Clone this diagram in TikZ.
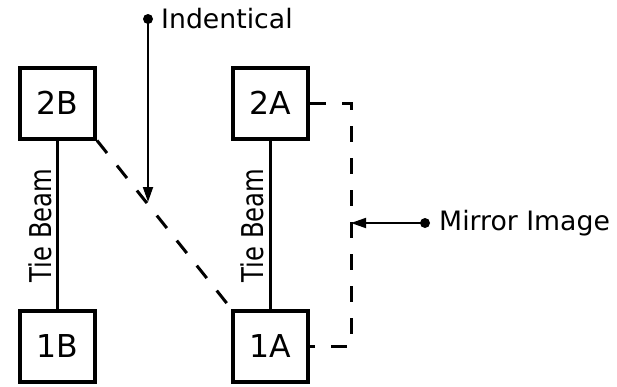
\documentclass[tikz,border=0pt]{standalone}
\usepackage{fontspec}
\setmainfont{DejaVu Sans}
\usetikzlibrary{arrows.meta}
\begin{document}
\begin{tikzpicture}[x=1pt,y=-1pt,
  pier/.style={draw,line width=4pt,fill=white,minimum width=75pt,minimum height=71pt,inner sep=0pt,font=\fontsize{31.5}{36}\selectfont},
  beam/.style={line width=3pt},
  dashlink/.style={line width=3pt,dash pattern=on 16pt off 16pt},
  pointer/.style={line width=1.8pt,-{Triangle[length=15pt,width=10pt]}},
  dotnode/.style={circle,fill=black,inner sep=0pt,minimum size=10pt},
  lbl/.style={font=\fontsize{26.7}{30}\selectfont,inner sep=0pt},
  beamlbl/.style={font=\fontsize{30}{34}\selectfont,inner sep=0pt,rotate=90,anchor=south}]
\useasboundingbox (0,0) rectangle (617,386);
\node[pier] (2B) at (57.5,103) {2B};
\node[pier] (2A) at (270.5,103) {2A};
\node[pier] (1B) at (57.5,346) {1B};
\node[pier] (1A) at (270.5,346) {1A};
\draw[beam] (2B) -- (1B);
\draw[beam] (2A) -- (1A);
\node[beamlbl] (tb1) at (52,225.5) {\scalebox{0.81}[1]{Tie Beam}};
\node[beamlbl] (tb2) at (264,225.5) {\scalebox{0.81}[1]{Tie Beam}};
\draw[dashlink] (2B.south east) -- (1A.north west);
\draw[dashlink] (2A.east) -- ++(41,0) |- (1A.east);
\node[dotnode] (d1) at (148,19) {};
\coordinate (t1) at (148,202);
\draw[pointer] (d1.center) -- (t1);
\node[lbl,anchor=west] (ind) at (161,19) {Indentical};
\node[dotnode] (d2) at (425,223) {};
\coordinate (t2) at (351,223);
\draw[pointer] (d2.center) -- (t2);
\node[lbl,anchor=west] (mir) at (439,223) {Mirror Image};
\end{tikzpicture}
\end{document}
